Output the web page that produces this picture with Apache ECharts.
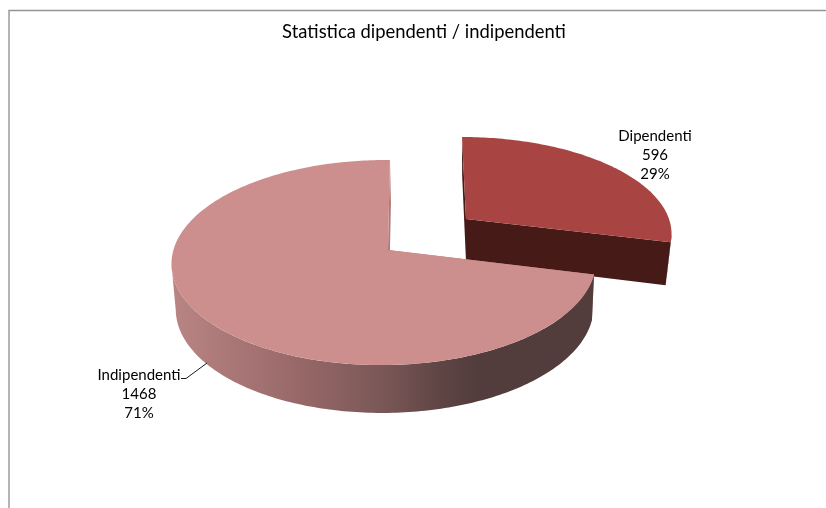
<!DOCTYPE html>
<html><head><meta charset="utf-8">
<style>html,body{margin:0;padding:0;background:#fff}#c{width:826px;height:508px}</style>
<script src="https://cdn.jsdelivr.net/npm/echarts@6/dist/echarts.min.js"></script>
</head><body><div id="c"></div>
<script>
const titleText = "Statistica dipendenti / indipendenti";
const categories = ["Dipendenti", "Indipendenti"];
const values = [596, 1468];

const FONT = 'Lato, "Open Sans", sans-serif';
// projection of each slice's disc (tilted, perspective), one entry per category
const layout = [
  {cx:466, cy:219, R:203, Ry:93, k:0.134, m:0, skew:4.5, drop:42, sx:0.975, sy:1.05, dxb:0,
   top:'#A84442', wall:'#461B17', side:'#461B17',
   label:{x:655, y:155.5}},
  {cx:388, cy:250, R:210.5, Ry:101, k:0.122, m:0.019, skew:-2.2, drop:45, sx:0.985, sy:1.025, dxb:1,
   top:'#CD8F8D', side:'#B07878',
   wall:{stops:[[0,'#B98484'],[0.3,'#986868'],[0.5,'#7A5757'],[0.62,'#624646'],[0.72,'#533C3C'],[1,'#533C3C']], x0:172, x1:595},
   label:{x:139, y:394}, leader:[[181,378.5],[186,378.5],[207,363]]}
];

const total = values.reduce((a,b)=>a+b,0);
const angleStart = values.map((v,i)=>values.slice(0,i).reduce((a,b)=>a+b,0)/total*Math.PI*2);

function proj(L, th, r, lower){
  const u = Math.sin(th)*r, v = -Math.cos(th)*r;
  const s = 1/(1 - L.k*v + L.m*u);
  let x = (L.R*u + L.skew*v)*s, y = L.Ry*v*s;
  if(lower){ return [L.cx + L.dxb + x*L.sx, L.cy + L.drop + y*L.sy]; }
  return [L.cx + x, L.cy + y];
}
function arc(L,a,b,lower){
  const pts=[], n=Math.max(1,Math.ceil((b-a)/(Math.PI/180)));
  for(let i=0;i<=n;i++) pts.push(proj(L,a+(b-a)*i/n,1,lower));
  return pts;
}
// the front-facing part of the rim runs between the disc's rightmost and leftmost points
function frontRange(L){
  let r=0,l=0,xr=-1e9,xl=1e9;
  for(let d=0;d<360;d++){
    const th=d*Math.PI/180, x=proj(L,th,1,false)[0];
    if(x>xr){xr=x;r=th;} if(x<xl){xl=x;l=th;}
  }
  return [r,l];
}
function renderItem(params, api){
  const i = params.dataIndex, L = layout[i];
  const v = api.value(0), a = angleStart[i], b = a + v/total*Math.PI*2;
  const fr = frontRange(L);
  const wa = Math.max(a,fr[0]), wb = Math.min(b,fr[1]);
  const topArc = arc(L,a,b,false);
  const fill = typeof L.wall === 'string' ? L.wall :
    new echarts.graphic.LinearGradient(L.wall.x0,0,L.wall.x1,0,L.wall.stops.map(s=>({offset:s[0],color:s[1]})),true);
  const children = [];
  // straight walls along both cut edges
  [a,b].forEach(e=>{
    children.push({type:'polygon',shape:{points:[proj(L,e,0,false),proj(L,e,1,false),proj(L,e,1,true),proj(L,e,0,true)]},
      style:{fill:L.side}});
  });
  // outer curved wall
  if(wb>wa) children.push({type:'polygon',shape:{points:arc(L,wa,wb,false).concat(arc(L,wa,wb,true).reverse())},style:{fill}});
  // top face
  children.push({type:'polygon',shape:{points:[proj(L,a,0,false)].concat(topArc)},style:{fill:L.top}});
  // leader
  if(L.leader) children.push({type:'polyline',shape:{points:L.leader},style:{stroke:'#1a1a1a',lineWidth:1,fill:null}});
  // label
  children.push({type:'text',style:{x:L.label.x,y:L.label.y,
    text:[categories[i],v,Math.round(v/total*100)+'%'].join('\n'),
    fill:'#000',font:'15px '+FONT,lineHeight:19,align:'center',verticalAlign:'middle'},z2:10});
  return {type:'group',children};
}
const chart = echarts.init(document.getElementById('c'),null,{renderer:'canvas'});
chart.setOption({
  animation:false,
  backgroundColor:'#fff',
  title:{text:titleText,left:424,top:23,padding:0,textAlign:'center',textStyle:{fontFamily:FONT,fontSize:18.4,fontWeight:'normal',color:'#000'}},
  graphic:[{type:'polyline',silent:true,shape:{points:[[9,508],[9,10.5],[826,10.5]]},style:{stroke:'#959595',lineWidth:1.4,fill:null}}],
  series:[{type:'custom',coordinateSystem:'none',renderItem,silent:true,clip:false,
    data:values.map(v=>[v])}]
});
</script></body></html>
